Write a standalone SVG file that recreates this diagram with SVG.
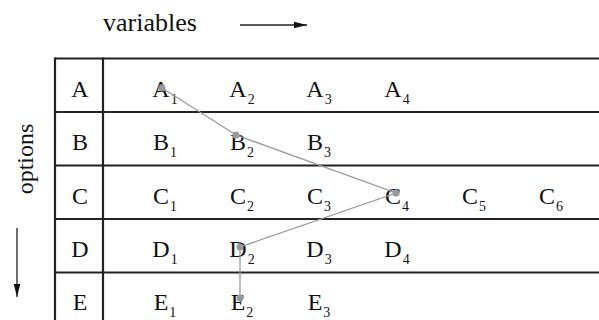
<svg xmlns="http://www.w3.org/2000/svg" width="599" height="320" viewBox="0 0 599 320">
<defs>
<style>
.t{font-family:"Liberation Serif","Times New Roman",serif;fill:#111}
.c{font-size:24px}
.s{font-size:14px}
.grid{stroke:#222;stroke-width:2.2;fill:none}
.conn{stroke:#999;stroke-width:1.3;fill:none}
.dot{fill:#999}
.ax{stroke:#222;stroke-width:1.3;fill:none}
</style>
<marker id="ah" markerWidth="14" markerHeight="8" refX="13" refY="4" orient="auto" markerUnits="userSpaceOnUse">
<path d="M0,0.7 L13,4 L0,7.3 Z" fill="#111"/>
</marker>
</defs>
<rect width="599" height="320" fill="#fff"/>
<g id="axes">
<text class="t" x="103" y="31" font-size="26">variables</text>
<line class="ax" x1="240" y1="25" x2="307" y2="25" marker-end="url(#ah)"/>
<text class="t" x="33" y="159" font-size="24" text-anchor="middle" transform="rotate(-90 33 159)">options</text>
<line class="ax" x1="17" y1="228" x2="17" y2="297" marker-end="url(#ah)"/>
</g>
<g id="table" class="grid">
<line x1="55" y1="58.5" x2="599" y2="58.5"/>
<line x1="55" y1="112" x2="599" y2="112"/>
<line x1="55" y1="165.5" x2="599" y2="165.5"/>
<line x1="55" y1="219" x2="599" y2="219"/>
<line x1="55" y1="272.5" x2="599" y2="272.5"/>
<line x1="55" y1="57.5" x2="55" y2="320"/>
<line x1="103" y1="57.5" x2="103" y2="320"/>
</g>
<g id="rowA" class="t c">
<text id="A" x="80" y="96.5" text-anchor="middle">A</text>
<g id="A1"><text x="152.3" y="96.5">A<tspan class="s" dx="1" dy="7">1</tspan></text></g>
<g id="A2"><text x="229.3" y="96.5">A<tspan class="s" dx="1" dy="7">2</tspan></text></g>
<g id="A3"><text x="306.3" y="96.5">A<tspan class="s" dx="1" dy="7">3</tspan></text></g>
<g id="A4"><text x="384.3" y="96.5">A<tspan class="s" dx="1" dy="7">4</tspan></text></g>
</g>
<g id="rowB" class="t c">
<text id="B" x="80" y="150" text-anchor="middle">B</text>
<g id="B1"><text x="153" y="150">B<tspan class="s" dx="1" dy="7">1</tspan></text></g>
<g id="B2"><text x="230" y="150">B<tspan class="s" dx="1" dy="7">2</tspan></text></g>
<g id="B3"><text x="307" y="150">B<tspan class="s" dx="1" dy="7">3</tspan></text></g>
</g>
<g id="rowC" class="t c">
<text id="C" x="80" y="203.5" text-anchor="middle">C</text>
<g id="C1"><text x="153" y="203.5">C<tspan class="s" dx="1" dy="7">1</tspan></text></g>
<g id="C2"><text x="230" y="203.5">C<tspan class="s" dx="1" dy="7">2</tspan></text></g>
<g id="C3"><text x="307" y="203.5">C<tspan class="s" dx="1" dy="7">3</tspan></text></g>
<g id="C4"><text x="385" y="203.5">C<tspan class="s" dx="1" dy="7">4</tspan></text></g>
<g id="C5"><text x="462" y="203.5">C<tspan class="s" dx="1" dy="7">5</tspan></text></g>
<g id="C6"><text x="539" y="203.5">C<tspan class="s" dx="1" dy="7">6</tspan></text></g>
</g>
<g id="rowD" class="t c">
<text id="D" x="80" y="257" text-anchor="middle">D</text>
<g id="D1"><text x="152.3" y="257">D<tspan class="s" dx="1" dy="7">1</tspan></text></g>
<g id="D2"><text x="229.3" y="257">D<tspan class="s" dx="1" dy="7">2</tspan></text></g>
<g id="D3"><text x="306.3" y="257">D<tspan class="s" dx="1" dy="7">3</tspan></text></g>
<g id="D4"><text x="384.3" y="257">D<tspan class="s" dx="1" dy="7">4</tspan></text></g>
</g>
<g id="rowE" class="t c">
<text id="E" x="80" y="310" text-anchor="middle">E</text>
<g id="E1"><text x="153.7" y="310">E<tspan class="s" dx="1" dy="7">1</tspan></text></g>
<g id="E2"><text x="230.7" y="310">E<tspan class="s" dx="1" dy="7">2</tspan></text></g>
<g id="E3"><text x="307.7" y="310">E<tspan class="s" dx="1" dy="7">3</tspan></text></g>
</g>
<g id="connectors">
<polyline class="conn" points="162,88 236,135 396,193 240,247 240,298"/>
<circle class="dot" cx="162" cy="88" r="3.5"/>
<circle class="dot" cx="236" cy="135" r="3.5"/>
<circle class="dot" cx="396" cy="193" r="3.5"/>
<circle class="dot" cx="240" cy="247" r="3.5"/>
<circle class="dot" cx="240" cy="298" r="3.5"/>
</g>
</svg>
